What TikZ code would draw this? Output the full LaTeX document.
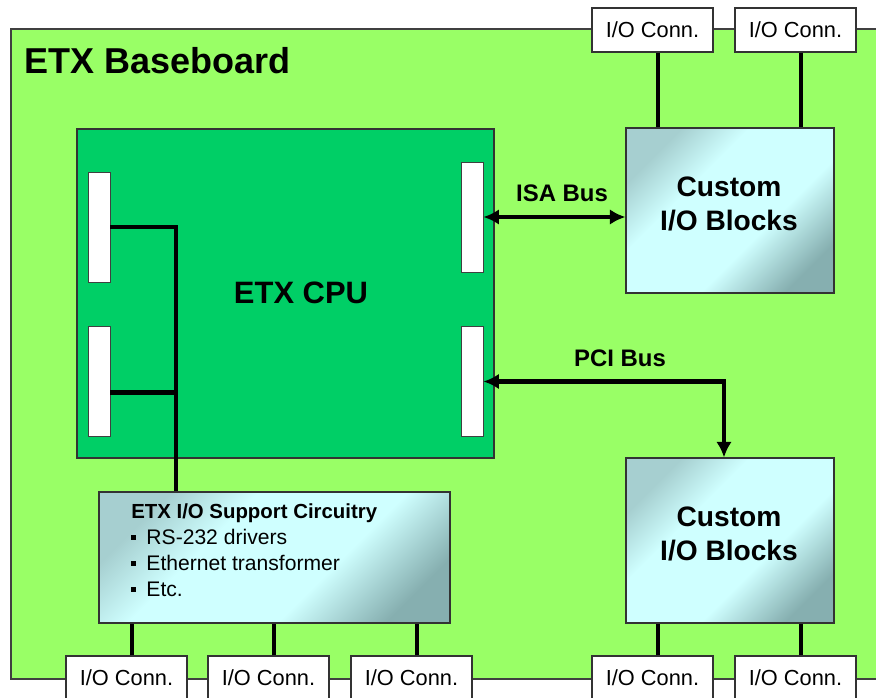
\documentclass[tikz,border=0pt]{standalone}
\usepackage{fontspec}
\setmainfont{Liberation Sans}
\usetikzlibrary{arrows.meta}

\definecolor{boardgreen}{HTML}{99FF66}
\definecolor{cpugreen}{HTML}{00CF66}
\definecolor{glassdark}{HTML}{86AFB0}
\definecolor{glassmid}{HTML}{A6CFD0}
\definecolor{glasslight}{HTML}{CFFFFF}
\pgfdeclarehorizontalshading{glass}{100bp}{color(0bp)=(glassmid); color(25bp)=(glassmid); color(38bp)=(glasslight); color(60bp)=(glasslight); color(76bp)=(glassdark); color(100bp)=(glassdark)}

\newcommand{\sqbullet}{\raisebox{0.2em}{\rule{3.3pt}{3.3pt}}\hspace{0.5em}}

\tikzset{
  board/.style={draw=black!75, line width=0.8pt, fill=boardgreen},
  cpubox/.style={draw=black!80, line width=0.8pt, fill=cpugreen, minimum width=10.425cm, minimum height=8.225cm},
  slot/.style={draw=black!75, line width=0.6pt, fill=white, minimum width=0.55cm, minimum height=2.75cm, inner sep=0pt},
  glassbox/.style={draw=black!80, line width=0.8pt, shade, shading=glass, shading angle=-45},
  custom/.style={glassbox, minimum width=5.2cm, minimum height=4.125cm},
  customtext/.style={align=center, inner sep=0pt, font=\bfseries\fontsize{20}{24}\selectfont},
  conn/.style={draw=black!80, line width=0.8pt, fill=white, minimum width=3.025cm, minimum height=1.1cm, inner sep=0pt, font=\fontsize{15.5}{18}\selectfont},
  wire/.style={line width=3.1pt},
  bus/.style={line width=3.1pt, {Latex[length=11pt,width=11pt]}-{Latex[length=11pt,width=11pt]}},
  buslabel/.style={font=\bfseries\fontsize{17}{20}\selectfont, inner sep=0pt}
}

\begin{document}
\begin{tikzpicture}[x=0.025cm, y=-0.025cm]
  \useasboundingbox (0,0) rectangle (876,698);
  \clip (0,0) rectangle (876,698);

  % Baseboard
  \draw[board] (11,29) rectangle (900,679);
  \node[anchor=west, inner sep=0pt, font=\bfseries\fontsize{25.6}{30}\selectfont] (title) at (24,61) {ETX Baseboard};

  % ETX CPU module with its connectors
  \node[cpubox] (cpu) at (285.5,293.5) {};
  \node[font=\bfseries\fontsize{22}{26}\selectfont] (cpulabel) at (301,293) {ETX CPU};
  \node[slot] (slotL1) at (99,227) {};
  \node[slot] (slotL2) at (99,381.5) {};
  \node[slot] (slotR1) at (472,217) {};
  \node[slot] (slotR2) at (472,381.5) {};

  % Custom blocks
  \node[custom] (blockA) at (730,210.5) {};
  \node[customtext] (blockAtext) at (729,204) {Custom\\I/O Blocks};
  \node[custom] (blockB) at (730,540.5) {};
  \node[customtext] (blockBtext) at (729,534) {Custom\\I/O Blocks};

  % Support circuitry
  \node[glassbox, minimum width=8.775cm, minimum height=3.275cm] (support) at (274.5,557.5) {};
  \node[anchor=north west, align=left, inner sep=0pt, font=\fontsize{15}{18.5}\selectfont] (supporttext) at (131,503)
    {{\bfseries\fontsize{14.5}{18.5}\selectfont ETX I/O Support Circuitry}\\
     \sqbullet RS-232 drivers\\
     \sqbullet Ethernet transformer\\
     \sqbullet Etc.};

  % I/O connectors
  \node[conn] (connT1) at (652.5,30) {I/O Conn.};
  \node[conn] (connT2) at (795.5,30) {I/O Conn.};
  \node[conn] (connS1) at (126.5,678) {I/O Conn.};
  \node[conn] (connS2) at (268.5,678) {I/O Conn.};
  \node[conn] (connS3) at (411.5,678) {I/O Conn.};
  \node[conn] (connB1) at (652.5,678) {I/O Conn.};
  \node[conn] (connB2) at (795.5,678) {I/O Conn.};

  % Wires to the connectors
  \draw[wire] ([xshift=0.1375cm]connT1.south) -- ([xshift=0.1375cm]connT1.south |- blockA.north);
  \draw[wire] ([xshift=0.1375cm]connT2.south) -- ([xshift=0.1375cm]connT2.south |- blockA.north);
  \draw[wire] ([xshift=0.1375cm]connB1.north) -- ([xshift=0.1375cm]connB1.north |- blockB.south);
  \draw[wire] ([xshift=0.1375cm]connB2.north) -- ([xshift=0.1375cm]connB2.north |- blockB.south);
  \draw[wire] ([xshift=0.1375cm]connS1.north) -- ([xshift=0.1375cm]connS1.north |- support.south);
  \draw[wire] ([xshift=0.1375cm]connS2.north) -- ([xshift=0.1375cm]connS2.north |- support.south);
  \draw[wire] ([xshift=0.1375cm]connS3.north) -- ([xshift=0.1375cm]connS3.north |- support.south);

  % Local bus to the support circuitry
  \coordinate (busL) at (176,227);
  \draw[wire] (slotL1.east) -- (busL) -- (busL |- support.north);
  \draw[wire] ([yshift=-0.275cm]slotL2.east) -- ([yshift=-0.275cm]slotL2.east -| busL);

  % ISA and PCI buses
  \draw[bus] (slotR1.east) -- (slotR1.east -| blockA.west);
  \node[buslabel] (isa) at (562,193) {ISA Bus};
  \draw[bus] (slotR2.east) -| ([xshift=-0.15cm]blockB.north);
  \node[buslabel] (pci) at (620,358) {PCI Bus};
\end{tikzpicture}
\end{document}
